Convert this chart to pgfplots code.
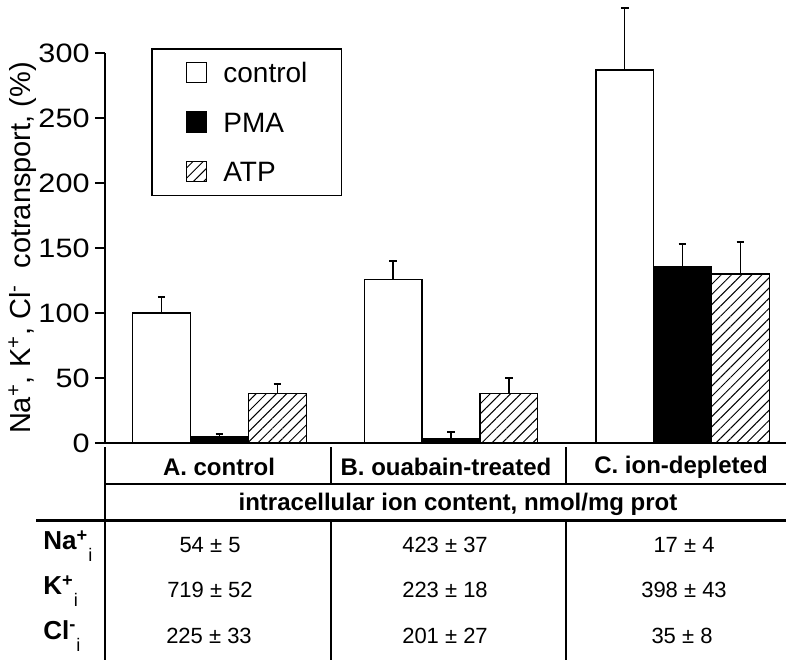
\documentclass[border=0pt]{standalone}
\usepackage{pgfplots}
\pgfplotsset{compat=1.18}
\usepackage{pgfplotstable}
\usetikzlibrary{patterns.meta}
\usepackage{fontspec}
\setmainfont{Liberation Sans}

\pgfplotstableread{
x y e
0 100 12.5
1 126 14
2 287 48
}\ctrl
\pgfplotstableread{
x y e
0 4.5 2.5
1 3.3 5.4
2 136 17
}\pma
\pgfplotstableread{
x y e
0 38 7.5
1 38 12
2 130 25
}\atp

\begin{document}
\begin{tikzpicture}
\begin{axis}[
  at={(52.5pt,-221.5pt)}, anchor=south west,
  scale only axis, width=340.5pt, height=195pt,
  xmin=-0.4946, xmax=2.4471, ymin=0, ymax=300,
  clip=false,
  axis x line*=bottom, axis y line*=left,
  x axis line style={-, line width=1.2pt},
  y axis line style={-, line width=0.8pt},
  xtick=\empty,
  ytick={0,50,...,300},
  tick align=outside, major tick length=5pt,
  tick style={line width=0.8pt, black},
  yticklabel style={font=\fontsize{13.3}{14}\selectfont, inner sep=0pt, xshift=-2.5pt, xscale=1.15},
  /pgf/number format/assume math mode=true,
  ylabel={Na\textsuperscript{+}, K\textsuperscript{+}, Cl\textsuperscript{-}\ \ cotransport, (\%)},
  ylabel style={at={(axis description cs:-0.1211,0.5)}, anchor=center, font=\fontsize{14.5}{16}\selectfont},
  ybar, bar width=28.9pt,
  legend image code/.code={\draw[#1, line width=0.75pt] (0pt,-5pt) rectangle (10pt,5pt);},
  legend cell align=left,
  legend style={at={(0.0675,1.0128)}, anchor=north west, draw=black, line width=0.9pt,
    font=\fontsize{14}{16}\selectfont, inner xsep=17pt, inner ysep=6.5pt,
    column sep=8pt, row sep=14pt,
    nodes={inner sep=0pt, text height=10pt, text depth=0pt}},
  error bars/y dir=plus, error bars/y explicit,
  error bars/error bar style={line width=0.75pt, black},
  error bars/error mark options={rotate=90, mark size=1.9pt, line width=1pt, black},
]
\addplot[draw=black, line width=0.7pt, fill=white, bar shift=-28.9pt] table[x=x,y=y,y error=e]{\ctrl};
\addplot[draw=black, line width=0.7pt, fill=black, bar shift=0pt] table[x=x,y=y,y error=e]{\pma};
\addplot[draw=black, line width=0.7pt, fill=white, postaction={pattern={Lines[angle=45,distance=3.6pt,line width=0.5pt]}}, bar shift=28.9pt] table[x=x,y=y,y error=e]{\atp};
\legend{control, PMA, ATP}
\end{axis}
\begin{scope}[x=0.5pt, y=-0.5pt]
 \draw[line width=0.7pt] (105,447) -- (105,660);
 \draw[line width=0.7pt] (331,447) -- (331,484);
 \draw[line width=0.7pt] (566,447) -- (566,484);
 \draw[line width=0.7pt] (331,520) -- (331,660);
 \draw[line width=0.7pt] (566,520) -- (566,660);
 \draw[line width=0.9pt] (105,484) -- (786,484);
 \draw[line width=1.5pt] (36,520) -- (786,520);
 \begin{scope}[every node/.style={font=\bfseries\fontsize{12}{13}\selectfont, inner sep=0pt}]
  \node at (219,467) {A. control};
  \node at (446,467) {B. ouabain-treated};
  \node at (681,467) {C. ion-depleted};
  \node at (458,504) {intracellular ion content, nmol/mg prot};
 \end{scope}
 \begin{scope}[every node/.style={font=\bfseries\fontsize{13}{15}\selectfont, inner sep=0pt, anchor=west}]
  \node at (43,546) {Na\textsuperscript{+}\raisebox{-0.5ex}{\textsubscript{\mdseries i}}};
  \node at (43,591) {K\textsuperscript{+}\raisebox{-0.5ex}{\textsubscript{\mdseries i}}};
  \node at (43,636) {Cl\textsuperscript{-}\raisebox{-0.5ex}{\textsubscript{\mdseries i}}};
 \end{scope}
 \begin{scope}[every node/.style={font=\fontsize{11}{13}\selectfont, inner sep=0pt}]
  \node at (210,545) {54 ± 5};
  \node at (445,545) {423 ± 37};
  \node at (684,545) {17 ± 4};
  \node at (210,590) {719 ± 52};
  \node at (445,590) {223 ± 18};
  \node at (684,590) {398 ± 43};
  \node at (209,636) {225 ± 33};
  \node at (445,636) {201 ± 27};
  \node at (682,636) {35 ± 8};
 \end{scope}
 \pgfresetboundingbox
 \path[use as bounding box] (0,0) rectangle (786,660);
\end{scope}
\end{tikzpicture}
\end{document}
